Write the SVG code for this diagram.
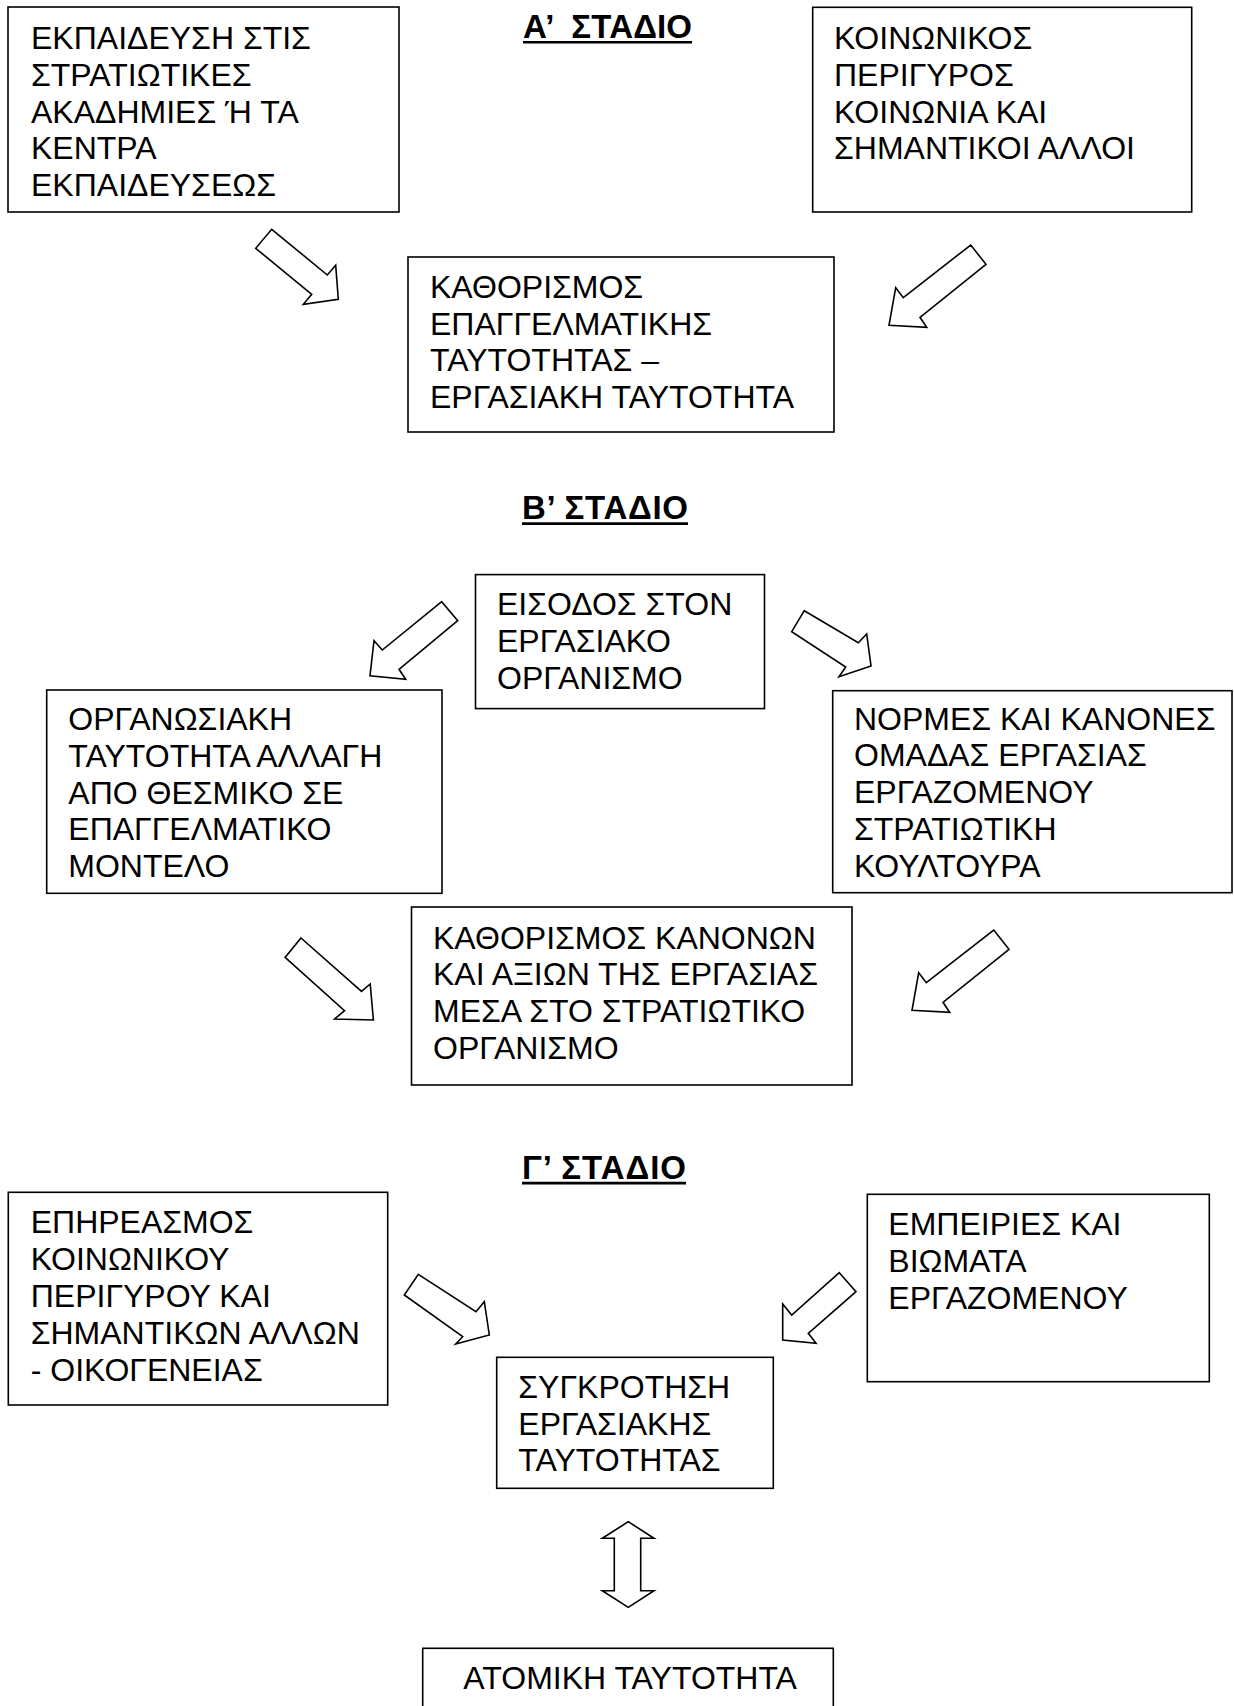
<svg xmlns="http://www.w3.org/2000/svg" width="1234" height="1706" viewBox="0 0 1234 1706">
<style>
.bx{fill:#fff;stroke:#000;stroke-width:1.6}
.t{font-family:"Liberation Sans",Arial,sans-serif;font-size:32px;fill:#000}
.h{font-family:"Liberation Sans",Arial,sans-serif;font-size:33px;font-weight:bold;fill:#000;white-space:pre}
.ul{stroke:#000;stroke-width:2.6}
.ar{fill:#fff;stroke:#000;stroke-width:1.6;stroke-linejoin:miter}
</style>
<rect width="1234" height="1706" fill="#fff"/>
<g id="titles">
<text class="h" x="523" y="37.7" textLength="169" lengthAdjust="spacing" xml:space="preserve">Α’  ΣΤΑΔΙΟ</text>
<line class="ul" x1="523" y1="42.3" x2="692" y2="42.3"/>
<text class="h" x="522" y="519" textLength="166" lengthAdjust="spacing">Β’ ΣΤΑΔΙΟ</text>
<line class="ul" x1="522" y1="523.6" x2="688" y2="523.6"/>
<text class="h" x="522" y="1178.5" textLength="164" lengthAdjust="spacing">Γ’ ΣΤΑΔΙΟ</text>
<line class="ul" x1="522" y1="1183.1" x2="686" y2="1183.1"/>
</g>
<g id="connectors">
<polygon class="ar" points="271.7,229.3 327.3,275 335.7,265.3 338.3,299.3 303.3,304.3 311.7,294.3 255.7,248.3"/>
<polygon class="ar" points="970.7,245 986,264.3 920,317.3 926.7,327.3 889,325.3 895.7,287.7 903.3,297.7"/>
<polygon class="ar" points="441.7,601.7 457.7,620.7 399,669.3 405.7,679.3 370,675.7 374,640.7 382.3,650"/>
<polygon class="ar" points="804.3,610.7 858.3,642.7 866.7,634 871,666 839,676.7 845.7,667 791.7,631.7"/>
<polygon class="ar" points="301,938 361.5,991.4 370.2,984 373.4,1020 334.6,1019 344.5,1010.7 285.1,957.4"/>
<polygon class="ar" points="993.7,930 1009,949.3 943,1002.3 949.7,1012.3 912,1010.3 918.7,972.7 926.3,982.7"/>
<polygon class="ar" points="418.3,1274.3 476,1311.7 484.3,1301.7 489.3,1335 455.7,1344 462.7,1336.7 404.3,1295"/>
<polygon class="ar" points="839.3,1272.7 856,1291.7 808.3,1333.3 816,1343.3 782.7,1340 782.7,1304 791.7,1315"/>
<polygon class="ar" points="628.3,1521.7 654,1538.3 640.7,1538.3 640.7,1590.7 654,1590.7 628.3,1607.3 602.3,1590.7 614.3,1590.7 614.3,1538.3 602.3,1538.3"/>
</g>
<g id="n1">
<rect class="bx" x="8" y="7" width="391" height="205"/>
<text class="t"><tspan x="31" y="49">ΕΚΠΑΙΔΕΥΣΗ ΣΤΙΣ</tspan><tspan x="31" dy="36.8">ΣΤΡΑΤΙΩΤΙΚΕΣ</tspan><tspan x="31" dy="36.8">ΑΚΑΔΗΜΙΕΣ Ή ΤΑ</tspan><tspan x="31" dy="36.8">ΚΕΝΤΡΑ</tspan><tspan x="31" dy="36.8">ΕΚΠΑΙΔΕΥΣΕΩΣ</tspan></text>
</g>
<g id="n2">
<rect class="bx" x="812.7" y="7.3" width="379" height="204.7"/>
<text class="t"><tspan x="834" y="49">ΚΟΙΝΩΝΙΚΟΣ</tspan><tspan x="834" dy="36.8">ΠΕΡΙΓΥΡΟΣ</tspan><tspan x="834" dy="36.8">ΚΟΙΝΩΝΙΑ ΚΑΙ</tspan><tspan x="834" dy="36.8">ΣΗΜΑΝΤΙΚΟΙ ΑΛΛΟΙ</tspan></text>
</g>
<g id="n3">
<rect class="bx" x="408" y="257" width="426" height="175"/>
<text class="t"><tspan x="430" y="297.7">ΚΑΘΟΡΙΣΜΟΣ</tspan><tspan x="430" dy="36.8">ΕΠΑΓΓΕΛΜΑΤΙΚΗΣ</tspan><tspan x="430" dy="36.8">ΤΑΥΤΟΤΗΤΑΣ –</tspan><tspan x="430" dy="36.8">ΕΡΓΑΣΙΑΚΗ ΤΑΥΤΟΤΗΤΑ</tspan></text>
</g>
<g id="n4">
<rect class="bx" x="475.5" y="574.6" width="289" height="134"/>
<text class="t"><tspan x="497" y="615">ΕΙΣΟΔΟΣ ΣΤΟΝ</tspan><tspan x="497" dy="36.8">ΕΡΓΑΣΙΑΚΟ</tspan><tspan x="497" dy="36.8">ΟΡΓΑΝΙΣΜΟ</tspan></text>
</g>
<g id="n5">
<rect class="bx" x="46.7" y="690" width="395.3" height="203.3"/>
<text class="t"><tspan x="68.3" y="730">ΟΡΓΑΝΩΣΙΑΚΗ</tspan><tspan x="68.3" dy="36.8">ΤΑΥΤΟΤΗΤΑ ΑΛΛΑΓΗ</tspan><tspan x="68.3" dy="36.8">ΑΠΟ ΘΕΣΜΙΚΟ ΣΕ</tspan><tspan x="68.3" dy="36.8">ΕΠΑΓΓΕΛΜΑΤΙΚΟ</tspan><tspan x="68.3" dy="36.8">ΜΟΝΤΕΛΟ</tspan></text>
</g>
<g id="n6">
<rect class="bx" x="832.7" y="690.7" width="399.3" height="202"/>
<text class="t"><tspan x="854" y="729.5">ΝΟΡΜΕΣ ΚΑΙ ΚΑΝΟΝΕΣ</tspan><tspan x="854" dy="36.8">ΟΜΑΔΑΣ ΕΡΓΑΣΙΑΣ</tspan><tspan x="854" dy="36.8">ΕΡΓΑΖΟΜΕΝΟΥ</tspan><tspan x="854" dy="36.8">ΣΤΡΑΤΙΩΤΙΚΗ</tspan><tspan x="854" dy="36.8">ΚΟΥΛΤΟΥΡΑ</tspan></text>
</g>
<g id="n7">
<rect class="bx" x="411.5" y="907" width="440.5" height="178"/>
<text class="t"><tspan x="433" y="948.5">ΚΑΘΟΡΙΣΜΟΣ ΚΑΝΟΝΩΝ</tspan><tspan x="433" dy="36.8">ΚΑΙ ΑΞΙΩΝ ΤΗΣ ΕΡΓΑΣΙΑΣ</tspan><tspan x="433" dy="36.8">ΜΕΣΑ ΣΤΟ ΣΤΡΑΤΙΩΤΙΚΟ</tspan><tspan x="433" dy="36.8">ΟΡΓΑΝΙΣΜΟ</tspan></text>
</g>
<g id="n8">
<rect class="bx" x="8.3" y="1192.3" width="379.4" height="212.7"/>
<text class="t"><tspan x="30.7" y="1233.3">ΕΠΗΡΕΑΣΜΟΣ</tspan><tspan x="30.7" dy="36.8">ΚΟΙΝΩΝΙΚΟΥ</tspan><tspan x="30.7" dy="36.8">ΠΕΡΙΓΥΡΟΥ ΚΑΙ</tspan><tspan x="30.7" dy="36.8">ΣΗΜΑΝΤΙΚΩΝ ΑΛΛΩΝ</tspan><tspan x="30.7" dy="36.8">- ΟΙΚΟΓΕΝΕΙΑΣ</tspan></text>
</g>
<g id="n9">
<rect class="bx" x="867.3" y="1194.3" width="342" height="187.4"/>
<text class="t"><tspan x="888.3" y="1235">ΕΜΠΕΙΡΙΕΣ ΚΑΙ</tspan><tspan x="888.3" dy="36.8">ΒΙΩΜΑΤΑ</tspan><tspan x="888.3" dy="36.8">ΕΡΓΑΖΟΜΕΝΟΥ</tspan></text>
</g>
<g id="n10">
<rect class="bx" x="496.7" y="1357.3" width="276.6" height="131"/>
<text class="t"><tspan x="518.3" y="1397.7">ΣΥΓΚΡΟΤΗΣΗ</tspan><tspan x="518.3" dy="36.8">ΕΡΓΑΣΙΑΚΗΣ</tspan><tspan x="518.3" dy="36.8">ΤΑΥΤΟΤΗΤΑΣ</tspan></text>
</g>
<g id="n11">
<rect class="bx" x="422.7" y="1648.3" width="410.6" height="80"/>
<text class="t" x="463.3" y="1688.5">ΑΤΟΜΙΚΗ ΤΑΥΤΟΤΗΤΑ</text>
</g>
</svg>
